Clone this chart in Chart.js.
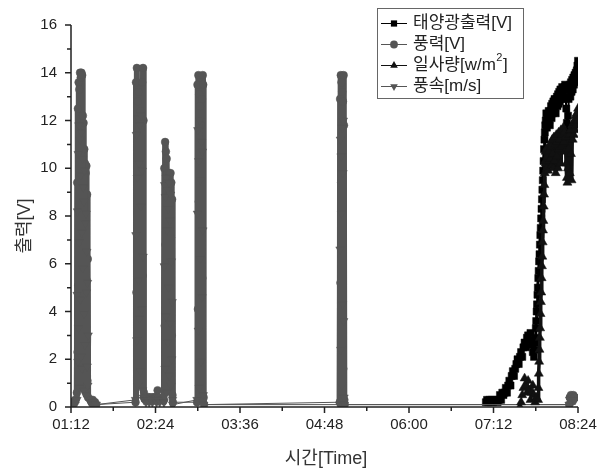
<!DOCTYPE html>
<html>
<head>
<meta charset="utf-8">
<script src="https://cdn.jsdelivr.net/npm/chart.js"></script>
<style>
  html, body { margin: 0; padding: 0; background: #fff; }
  canvas { display: block; }
</style>
</head>
<body>
<canvas id="chart" width="612" height="470"></canvas>
<script>
// ===============================
// 출력 vs 시간 – data log
// ===============================

// ---------- AXES ----------
const timeTicks = ["01:12", "02:24", "03:36", "04:48", "06:00", "07:12", "08:24"];
const voltTicks = [0, 2, 4, 6, 8, 10, 12, 14, 16];

// ---------- GRAY SERIES (풍력 / 풍속) ----------
// logged in bursts; each burst has a start time (minutes after 00:00) and a sample step
const grayStart = [72.5, 77.0, 88.5, 127.0, 135.0, 151.2, 179.4, 301.0, 496.5];
const grayStep  = [1, 0.3, 1, 0.375, 0.9, 0.33, 0.375, 0.3, 0.5];

const windLead = [0.1, 0.2, 0.2, 0.3];
const windB1 = [0.6, 9.4, 2.3, 12.5, 5.1, 13.6, 1.5, 13.3, 7.8, 14.0,
                3.6, 13.8, 0.9, 14.0, 6.4, 13.9, 2.7, 12.2, 8.9, 11.9,
                4.2, 10.8, 1.3, 10.2, 6.0, 9.8, 2.4, 10.1, 5.3, 8.9,
                1.1, 6.2, 0.4];
const windTail1 = [0.3, 0.2, 0.3, 0.2, 0.2, 0.1];
const windB2 = [0.2, 13.6, 4.8, 14.2, 9.1, 12.8, 2.6, 13.2, 6.7, 11.9,
                1.4, 12.4, 7.9, 10.6, 3.3, 13.6, 5.5, 14.2, 12.0, 0.6, 0.4];
const windFlat = [0.4, 0.4, 0.3, 0.4, 0.4, 0.4, 0.3, 0.4, 0.4, 0.4, 0.4, 0.4, 0.7, 0.4, 0.3];
const windB3 = [0.3, 10.0, 3.4, 11.1, 6.8, 10.7, 1.9, 10.4, 8.2, 9.8,
                4.0, 9.5, 0.8, 9.8, 5.6, 9.2, 2.2, 9.8, 7.1, 9.4,
                3.0, 8.7, 0.5, 0.2];
const windB4 = [0.2, 13.5, 4.1, 13.9, 8.6, 13.1, 2.3, 12.6, 6.9, 11.8,
                1.2, 12.9, 5.4, 13.9, 13.5, 0.4, 0.1];
const windB5 = [0.2, 12.9, 5.2, 13.9, 9.4, 13.6, 3.1, 13.2, 7.7, 12.8,
                1.6, 13.9, 11.8, 0.3, 0.1];
const windEnd = [0.1, 0.4, 0.4, 0.5, 0.4, 0.4, 0.4, 0.5, 0.4, 0.4, 0.4];

const speedLead = [0.1, 0.1, 0.2, 0.1];
const speedB1 = [0.3, 4.7, 8.2, 1.9, 10.6, 3.3, 11.8, 6.9, 0.8, 11.2,
                 4.5, 9.7, 2.1, 11.5, 7.3, 1.6, 10.4, 5.8, 9.2, 0.7,
                 8.6, 3.9, 9.9, 2.6, 7.7, 0.5, 8.1, 4.8, 6.5, 1.7,
                 5.2, 0.9, 3.0];
const speedTail1 = [0.2, 0.1, 0.2, 0.1, 0.1, 0.1];
const speedB2 = [0.3, 7.2, 11.4, 2.8, 9.6, 0.9, 12.1, 5.3, 10.2, 3.7,
                 11.8, 1.5, 8.4, 12.2, 4.1, 9.9, 0.7, 6.3, 0.4, 0.3];
const speedFlat = [0.3, 0.2, 0.3, 0.3, 0.2, 0.3, 0.3, 0.2, 0.3, 0.3, 0.3, 0.2, 0.3, 0.3, 0.2];
const speedB3 = [0.2, 5.9, 9.3, 1.6, 8.8, 3.8, 9.6, 0.6, 7.4, 9.1,
                 2.7, 8.3, 5.0, 9.4, 1.3, 7.8, 3.5, 8.9, 0.9, 6.1,
                 2.0, 4.4, 0.3, 0.1];
const speedB4 = [0.3, 8.1, 11.6, 3.2, 10.3, 0.8, 12.0, 6.2, 9.5, 1.9,
                 11.1, 4.6, 10.7, 7.4, 0.5, 0.1];
const speedB5 = [0.1, 6.6, 11.2, 2.4, 10.5, 8.1, 0.9, 11.7, 4.3, 9.8,
                 12.0, 3.6, 0.4, 0.1];
const speedEnd = [0.1, 0.3, 0.3, 0.3, 0.3, 0.2, 0.3, 0.3, 0.3, 0.3, 0.3];

// ---------- SOLAR (태양광출력) ----------
const solarStart = [425.5, 467.0, 476.5];
const solarStep  = [1, 0.35, 0.5];
const solarA = [0.2, 0.3, 0.2, 0.3, 0.2, 0.3, 0.2, 0.3, 0.25, 0.3,
                0.2, 0.3, 0.5, 0.3, 0.6, 0.5, 0.6, 0.8, 0.6, 0.9,
                1.1, 0.9, 1.3, 1.5, 1.3, 1.6, 1.8, 2.0, 1.8, 2.1,
                2.3, 2.1, 2.5, 2.7, 2.5, 2.9, 3.0, 2.8, 3.1, 2.6,
                2.3, 2.1];
const solarB = [2.4, 2.7, 2.9, 3.3, 3.6, 4.0, 4.3, 4.7, 5.0, 5.4,
                5.7, 6.1, 6.4, 6.8, 7.2, 7.5, 7.9, 8.3, 8.7, 9.1,
                9.5, 9.9, 10.3, 10.8, 11.2, 11.5, 11.8];
const solarC = [12.0, 12.3, 11.7, 12.2, 11.9, 12.4, 12.0, 11.8, 12.4, 12.6,
                12.1, 12.7, 12.3, 12.8, 12.4, 12.9, 12.5, 12.3, 12.9, 13.0,
                12.6, 13.1, 12.7, 13.2, 12.8, 13.3, 12.9, 13.0, 13.4, 13.0,
                13.3, 12.9, 13.4, 13.5, 13.0, 12.5, 11.9, 11.6, 12.2, 12.9,
                13.3, 13.5, 13.0, 13.6, 13.2, 13.7, 13.3, 13.8, 13.5, 13.9,
                13.6, 14.0, 13.7, 14.1, 14.3, 14.5];

// ---------- IRRADIANCE (일사량) ----------
const irrStart = [454.5, 470.0, 476.5];
const irrStep  = [1, 0.3, 0.5];
const irrA = [0.0, 0.2, 0.5, 0.8, 1.2, 0.9, 0.6, 1.1, 0.7, 0.3, 0.6, 0.9, 0.5, 0.2, 0.4];
const irrB = [0.3, 0.8, 1.4, 1.9, 2.4, 2.9, 3.3, 3.9, 4.4, 4.8,
              5.4, 5.9, 6.3, 6.9, 7.4, 7.8, 8.4, 8.9, 9.3, 9.8,
              10.3, 10.7];
const irrC = [10.2, 10.8, 10.0, 10.5, 9.9, 10.7, 10.3, 11.0, 10.4, 10.9,
              10.1, 11.2, 10.6, 10.0, 11.3, 10.3, 11.0, 9.8, 11.4, 10.5,
              11.1, 10.0, 11.5, 10.8, 11.2, 10.2, 11.6, 10.9, 11.4, 11.0,
              11.7, 11.1, 11.5, 10.7, 11.3, 10.2, 9.6, 9.4, 10.0, 10.8,
              11.4, 9.8, 11.6, 10.6, 9.5, 11.8, 11.2, 11.9, 11.4, 12.0,
              11.6, 12.2, 11.8, 12.3, 12.0, 12.5];

// ---------- HELPERS ----------
const toMin = s => { const [h, m] = s.split(":").map(Number); return h * 60 + m; };
const fmt = v => {
  const h = Math.floor(v / 60), m = Math.round(v % 60);
  return String(h).padStart(2, "0") + ":" + String(m).padStart(2, "0");
};
// g = index of the burst a sample belongs to (used for the line width)
function fromSegments(starts, steps, lists) {
  const out = [];
  lists.forEach((vals, k) => {
    vals.forEach((v, i) => out.push({ x: starts[k] + i * steps[k], y: v, g: k }));
  });
  return out;
}

const xMin = toMin(timeTicks[0]);
const xMax = toMin(timeTicks[timeTicks.length - 1]);
const xStep = toMin(timeTicks[1]) - xMin;

const GRAY = "#555555";
const BLACK = "#000000";
const AXIS = "#222222";
const FONT = '"Liberation Sans", "Noto Sans CJK KR", sans-serif';

// dense bursts are drawn with a heavier trace, as in the logger plot
const grayWidth  = [1, 6, 3, 6, 3, 6, 6, 6, 1];
const solarWidth = [1, 3, 2];
const irrWidth   = [1, 3.5, 4];

const styles = [
  { label: "태양광출력[V]", color: BLACK, shape: "rect", r: 5, rot: 0 },
  { label: "풍력[V]", color: GRAY, shape: "circle", r: 3.9, rot: 0 },
  { label: "일사량[w/m", sup: "2", tail: "]", color: "#111111", shape: "triangle", r: 5.2, rot: 0 },
  { label: "풍속[m/s]", color: GRAY, shape: "triangle", r: 5, rot: 180 }
];

const grayWind = [windLead, windB1, windTail1, windB2, windFlat, windB3, windB4, windB5, windEnd];
const graySpeed = [speedLead, speedB1, speedTail1, speedB2, speedFlat, speedB3, speedB4, speedB5, speedEnd];

const seriesData = [
  fromSegments(solarStart, solarStep, [solarA, solarB, solarC]),
  fromSegments(grayStart, grayStep, grayWind),
  fromSegments(irrStart, irrStep, [irrA, irrB, irrC]),
  fromSegments(grayStart, grayStep, graySpeed)
];
const seriesWidth = [solarWidth, grayWidth, irrWidth, grayWidth];
const drawOrder = [4, 3, 1, 2];

// ---------- MARKERS (legend) ----------
function marker(ctx, s, x, y) {
  ctx.fillStyle = s.color;
  ctx.beginPath();
  if (s.shape === "rect") {
    const h = s.r * Math.SQRT1_2;
    ctx.rect(x - h, y - h, 2 * h, 2 * h);
  } else if (s.shape === "circle") {
    ctx.arc(x, y, s.r, 0, Math.PI * 2);
  } else {
    const d = s.rot === 180 ? -1 : 1;
    ctx.moveTo(x, y - d * s.r);
    ctx.lineTo(x + 0.866 * s.r, y + d * 0.5 * s.r);
    ctx.lineTo(x - 0.866 * s.r, y + d * 0.5 * s.r);
    ctx.closePath();
  }
  ctx.fill();
}

// ---------- FRAME, TICKS, TITLES, LEGEND ----------
const framePlugin = {
  id: "originFrame",
  afterDraw(chart) {
    const { ctx, chartArea: a, scales: { x, y } } = chart;
    ctx.save();

    // axes
    ctx.strokeStyle = AXIS;
    ctx.lineWidth = 1.5;
    ctx.beginPath();
    ctx.moveTo(a.left, a.top);
    ctx.lineTo(a.left, a.bottom);
    ctx.lineTo(a.right, a.bottom);
    ctx.stroke();

    // tick marks (major + minor), outward
    ctx.beginPath();
    for (let m = xMin; m <= xMax + 0.01; m += xStep / 2) {
      const px = x.getPixelForValue(m);
      const len = Math.round((m - xMin) / (xStep / 2)) % 2 === 0 ? 6 : 4;
      ctx.moveTo(px, a.bottom);
      ctx.lineTo(px, a.bottom + len);
    }
    const yMax = voltTicks[voltTicks.length - 1];
    for (let v = 0; v <= yMax; v += 1) {
      const py = y.getPixelForValue(v);
      const len = v % 2 === 0 ? 6 : 4;
      ctx.moveTo(a.left, py);
      ctx.lineTo(a.left - len, py);
    }
    ctx.stroke();

    // axis titles
    ctx.fillStyle = "#333";
    ctx.font = "18px " + FONT;
    ctx.textAlign = "center";
    ctx.textBaseline = "middle";
    ctx.fillText("시간[Time]", 326, 459);
    ctx.save();
    ctx.translate(25, 226);
    ctx.rotate(-Math.PI / 2);
    ctx.fillText("출력[V]", 0, 0);
    ctx.restore();

    // legend box
    ctx.fillStyle = "#fff";
    ctx.fillRect(377.5, 8.5, 146, 90);
    ctx.strokeStyle = "#666";
    ctx.lineWidth = 1;
    ctx.strokeRect(377.5, 8.5, 146, 90);

    const rows = [23, 44, 65, 86];
    ctx.textAlign = "left";
    styles.forEach((s, i) => {
      const ry = rows[i];
      ctx.strokeStyle = s.color;
      ctx.lineWidth = 1;
      ctx.beginPath();
      ctx.moveTo(381, ry + 0.5);
      ctx.lineTo(407, ry + 0.5);
      ctx.stroke();
      marker(ctx, { ...s, r: Math.min(s.r, 4.4) }, 394, ry + 0.5);
      ctx.fillStyle = "#222";
      ctx.font = "17px " + FONT;
      ctx.fillText(s.label, 413, ry);
      if (s.sup) {
        let tx = 413 + ctx.measureText(s.label).width;
        ctx.font = "11px " + FONT;
        ctx.fillText(s.sup, tx + 0.5, ry - 7);
        tx += ctx.measureText(s.sup).width + 1;
        ctx.font = "17px " + FONT;
        ctx.fillText(s.tail, tx, ry);
      }
    });
    ctx.restore();
  }
};

// ---------- CHART ----------
new Chart(document.getElementById("chart"), {
  type: "line",
  data: {
    datasets: styles.map((s, i) => ({
      label: s.sup ? s.label + s.sup + s.tail : s.label,
      data: seriesData[i],
      order: drawOrder[i],
      borderColor: s.color,
      backgroundColor: s.color,
      borderWidth: 1,
      borderJoinStyle: "round",
      borderCapStyle: "round",
      tension: 0,
      fill: false,
      segment: {
        borderWidth: c => {
          const d = seriesData[i];
          const g0 = d[c.p0DataIndex].g, g1 = d[c.p1DataIndex].g;
          return g0 === g1 ? seriesWidth[i][g0] : 1;
        }
      },
      pointStyle: s.shape,
      pointRotation: s.rot,
      pointRadius: s.r,
      pointBackgroundColor: s.color,
      pointBorderColor: s.color,
      pointBorderWidth: 0.5
    }))
  },
  options: {
    responsive: false,
    animation: false,
    events: [],
    devicePixelRatio: 1,
    layout: { padding: { left: 0, right: 34, top: 25, bottom: 0 } },
    plugins: {
      legend: { display: false },
      tooltip: { enabled: false }
    },
    scales: {
      x: {
        type: "linear",
        min: xMin,
        max: xMax,
        grid: { display: false, drawTicks: false },
        border: { display: false },
        afterFit: s => { s.height = 63; },
        ticks: {
          stepSize: xStep,
          autoSkip: false,
          maxRotation: 0,
          padding: 9,
          color: "#222",
          font: { family: FONT, size: 15 },
          callback: v => fmt(v)
        }
      },
      y: {
        min: voltTicks[0],
        max: voltTicks[voltTicks.length - 1],
        grid: { display: false, drawTicks: false },
        border: { display: false },
        afterFit: s => { s.width = 71; },
        ticks: {
          stepSize: voltTicks[1] - voltTicks[0],
          padding: 14,
          color: "#222",
          font: { family: FONT, size: 15 }
        }
      }
    }
  },
  plugins: [framePlugin]
});
</script>
</body>
</html>
